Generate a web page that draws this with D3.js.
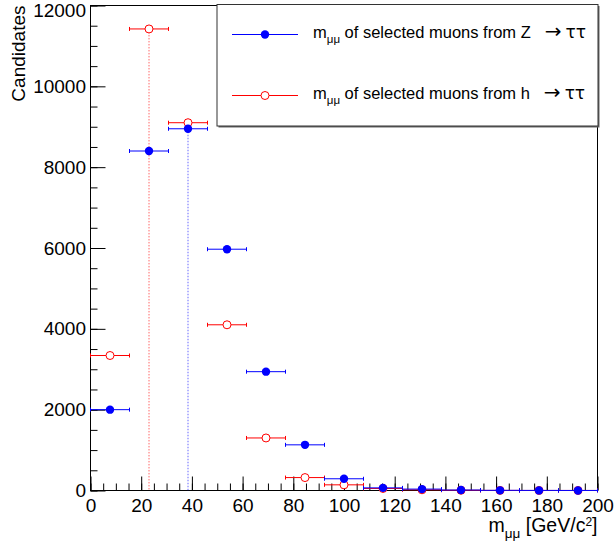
<!DOCTYPE html>
<html>
<head>
<meta charset="utf-8">
<script src="https://cdn.jsdelivr.net/npm/d3@7"></script>
<style>
  body { margin: 0; background: #fff; }
  svg { display: block; font-family: "Liberation Sans", Arial, Helvetica, sans-serif; }
  .tick text { font-size: 19px; fill: #000; }
  .tick line { stroke: #000; }
  .sym { font-family: "DejaVu Sans", sans-serif; }
</style>
</head>
<body>
<svg id="chart" width="615" height="547"></svg>
<script>
// histogram binning: 13 equal bins over [0, 200] GeV/c^2
const binLow = 0;
const binHigh = 200;
const nBins = 13;

// bin contents
const zValues = [2000, 8400, 8950, 5970, 2940, 1130, 290, 65, 35, 12, 4, 2, 1];
const hValues = [3340, 11420, 9100, 4100, 1300, 320, 140, 50, 18, 6, 2, 1, 1];

const xTicks = [0, 20, 40, 60, 80, 100, 120, 140, 160, 180, 200];
const yTicks = [0, 2000, 4000, 6000, 8000, 10000, 12000];

const legendLabels = [
  { pre: "m", sub: "\u03bc\u03bc", mid: " of selected muons from Z", arrow: "\u2192", post: "\u03c4\u03c4" },
  { pre: "m", sub: "\u03bc\u03bc", mid: " of selected muons from h", arrow: "\u2192", post: "\u03c4\u03c4" }
];

let svg = d3.select("#chart");

let frame = { left: 90.5, right: 597.5, top: 5.5, bottom: 490.5 };

let x = d3.scaleLinear().domain([binLow, binHigh]).range([frame.left, frame.right]);
let y = d3.scaleLinear().domain([0, 12000]).range([frame.bottom, frame.top]);

let binWidth = (binHigh - binLow) / nBins;
function toBins(values) {
  return values.map((v, i) => ({
    lo: binLow + i * binWidth,
    hi: binLow + (i + 1) * binWidth,
    mid: binLow + (i + 0.5) * binWidth,
    v: v
  }));
}
let zBins = toBins(zValues);
let hBins = toBins(hValues);

//---- axes (ROOT style: ticks pointing inward) ----
let xMinor = d3.range(binLow, binHigh + 0.1, 5);
let yMinor = d3.range(0, 12001, 500);

svg.append("g")
  .attr("transform", `translate(0,${frame.bottom})`)
  .call(d3.axisBottom(x).tickValues(xMinor).tickSize(-7).tickFormat(""))
  .call(g => g.select(".domain").remove());

svg.append("g")
  .attr("transform", `translate(0,${frame.bottom})`)
  .call(d3.axisBottom(x).tickValues(xTicks).tickSize(-14).tickPadding(8).tickFormat(d3.format("d")))
  .call(g => g.select(".domain").remove());

svg.append("g")
  .attr("transform", `translate(${frame.left},0)`)
  .call(d3.axisLeft(y).tickValues(yMinor).tickSize(-7).tickFormat(""))
  .call(g => g.select(".domain").remove());

svg.append("g")
  .attr("transform", `translate(${frame.left},0)`)
  .call(d3.axisLeft(y).tickValues(yTicks).tickSize(-15).tickPadding(4.5).tickFormat(d3.format("d")))
  .call(g => g.select(".domain").remove())
  // top label would leave the pad, ROOT nudges it down
  .call(g => g.selectAll(".tick text").filter(d => d === 12000).attr("dy", "0.58em"));

svg.selectAll(".tick text").attr("font-family", null);

// frame box
svg.append("rect")
  .attr("x", frame.left).attr("y", frame.top)
  .attr("width", frame.right - frame.left)
  .attr("height", frame.bottom - frame.top)
  .attr("fill", "none")
  .attr("stroke", "#000");

// axis titles
let xTitle = svg.append("text")
  .attr("x", frame.right).attr("y", 532)
  .attr("text-anchor", "end")
  .style("font-size", "19.5px");
xTitle.append("tspan").text("m");
xTitle.append("tspan").attr("dy", 6).style("font-size", "13.5px").text("\u03bc\u03bc");
xTitle.append("tspan").attr("dy", -6).text(" [GeV/c");
xTitle.append("tspan").attr("dy", -6).style("font-size", "12px").text("2");
xTitle.append("tspan").attr("dy", 6).text("]");

svg.append("text")
  .attr("transform", `translate(25,${frame.top}) rotate(-90)`)
  .attr("text-anchor", "end")
  .style("font-size", "19px")
  .text("Candidates");

//---- dotted lines at the peak bins ----
function peakLine(bins, colour) {
  let peak = bins.reduce((a, b) => (b.v > a.v ? b : a));
  svg.append("line")
    .attr("x1", x(peak.mid)).attr("x2", x(peak.mid))
    .attr("y1", y(peak.v)).attr("y2", y(0))
    .attr("stroke", colour)
    .attr("stroke-opacity", 0.6)
    .attr("stroke-dasharray", "1.5,1.5");
}
peakLine(hBins, "#ff0000");
peakLine(zBins, "#0000ff");

//---- data points with horizontal bin-width bars ----
function drawSeries(bins, colour, filled) {
  let g = svg.append("g");
  let pts = g.selectAll("g.pt")
    .data(bins)
    .join("g")
    .classed("pt", true);

  pts.append("line")
    .attr("x1", d => x(d.lo)).attr("x2", d => x(d.hi))
    .attr("y1", d => y(d.v)).attr("y2", d => y(d.v))
    .attr("stroke", colour);

  // end caps
  pts.append("line")
    .attr("x1", d => x(d.lo)).attr("x2", d => x(d.lo))
    .attr("y1", d => y(d.v) - 2).attr("y2", d => y(d.v) + 2)
    .attr("stroke", colour);
  pts.append("line")
    .attr("x1", d => x(d.hi)).attr("x2", d => x(d.hi))
    .attr("y1", d => y(d.v) - 2).attr("y2", d => y(d.v) + 2)
    .attr("stroke", colour);

  pts.append("circle")
    .attr("cx", d => x(d.mid))
    .attr("cy", d => y(d.v))
    .attr("r", filled ? 4.2 : 4)
    .attr("fill", filled ? colour : "#fff")
    .attr("stroke", filled ? "none" : colour);
}
drawSeries(hBins, "#ff0000", false);
drawSeries(zBins, "#0000ff", true);

//---- legend ----
let leg = { x: 217, y: 4.5, w: 381, h: 121.5 };
let legend = svg.append("g");

// shadow
legend.append("rect")
  .attr("x", leg.x + 1.5).attr("y", leg.y + 1.5)
  .attr("width", leg.w).attr("height", leg.h)
  .attr("fill", "#666");
legend.append("rect")
  .attr("x", leg.x).attr("y", leg.y)
  .attr("width", leg.w).attr("height", leg.h)
  .attr("fill", "#fff")
  .attr("stroke", "#333");

let entries = [
  { label: legendLabels[0], colour: "#0000ff", filled: true, cy: 34.5, base: 38 },
  { label: legendLabels[1], colour: "#ff0000", filled: false, cy: 95.5, base: 99 }
];

entries.forEach(e => {
  legend.append("line")
    .attr("x1", 232).attr("x2", 298)
    .attr("y1", e.cy).attr("y2", e.cy)
    .attr("stroke", e.colour);
  legend.append("circle")
    .attr("cx", 265).attr("cy", e.cy)
    .attr("r", e.filled ? 4.2 : 4)
    .attr("fill", e.filled ? e.colour : "#fff")
    .attr("stroke", e.filled ? "none" : e.colour);

  let t = legend.append("text")
    .attr("x", 313).attr("y", e.base)
    .style("font-size", "16.5px");
  t.append("tspan").text(e.label.pre);
  t.append("tspan").attr("dy", 5).style("font-size", "11.5px").text(e.label.sub);
  t.append("tspan").attr("dy", -5).text(e.label.mid);
  // symbol glyphs taken from DejaVu, closer to ROOT's symbol font
  t.append("tspan").classed("sym", true).attr("dx", 14)
    .style("font-size", "20px").text(e.label.arrow);
  t.append("tspan").classed("sym", true).attr("dx", 4)
    .style("font-size", "17px").text(e.label.post);
});
</script>
</body>
</html>
